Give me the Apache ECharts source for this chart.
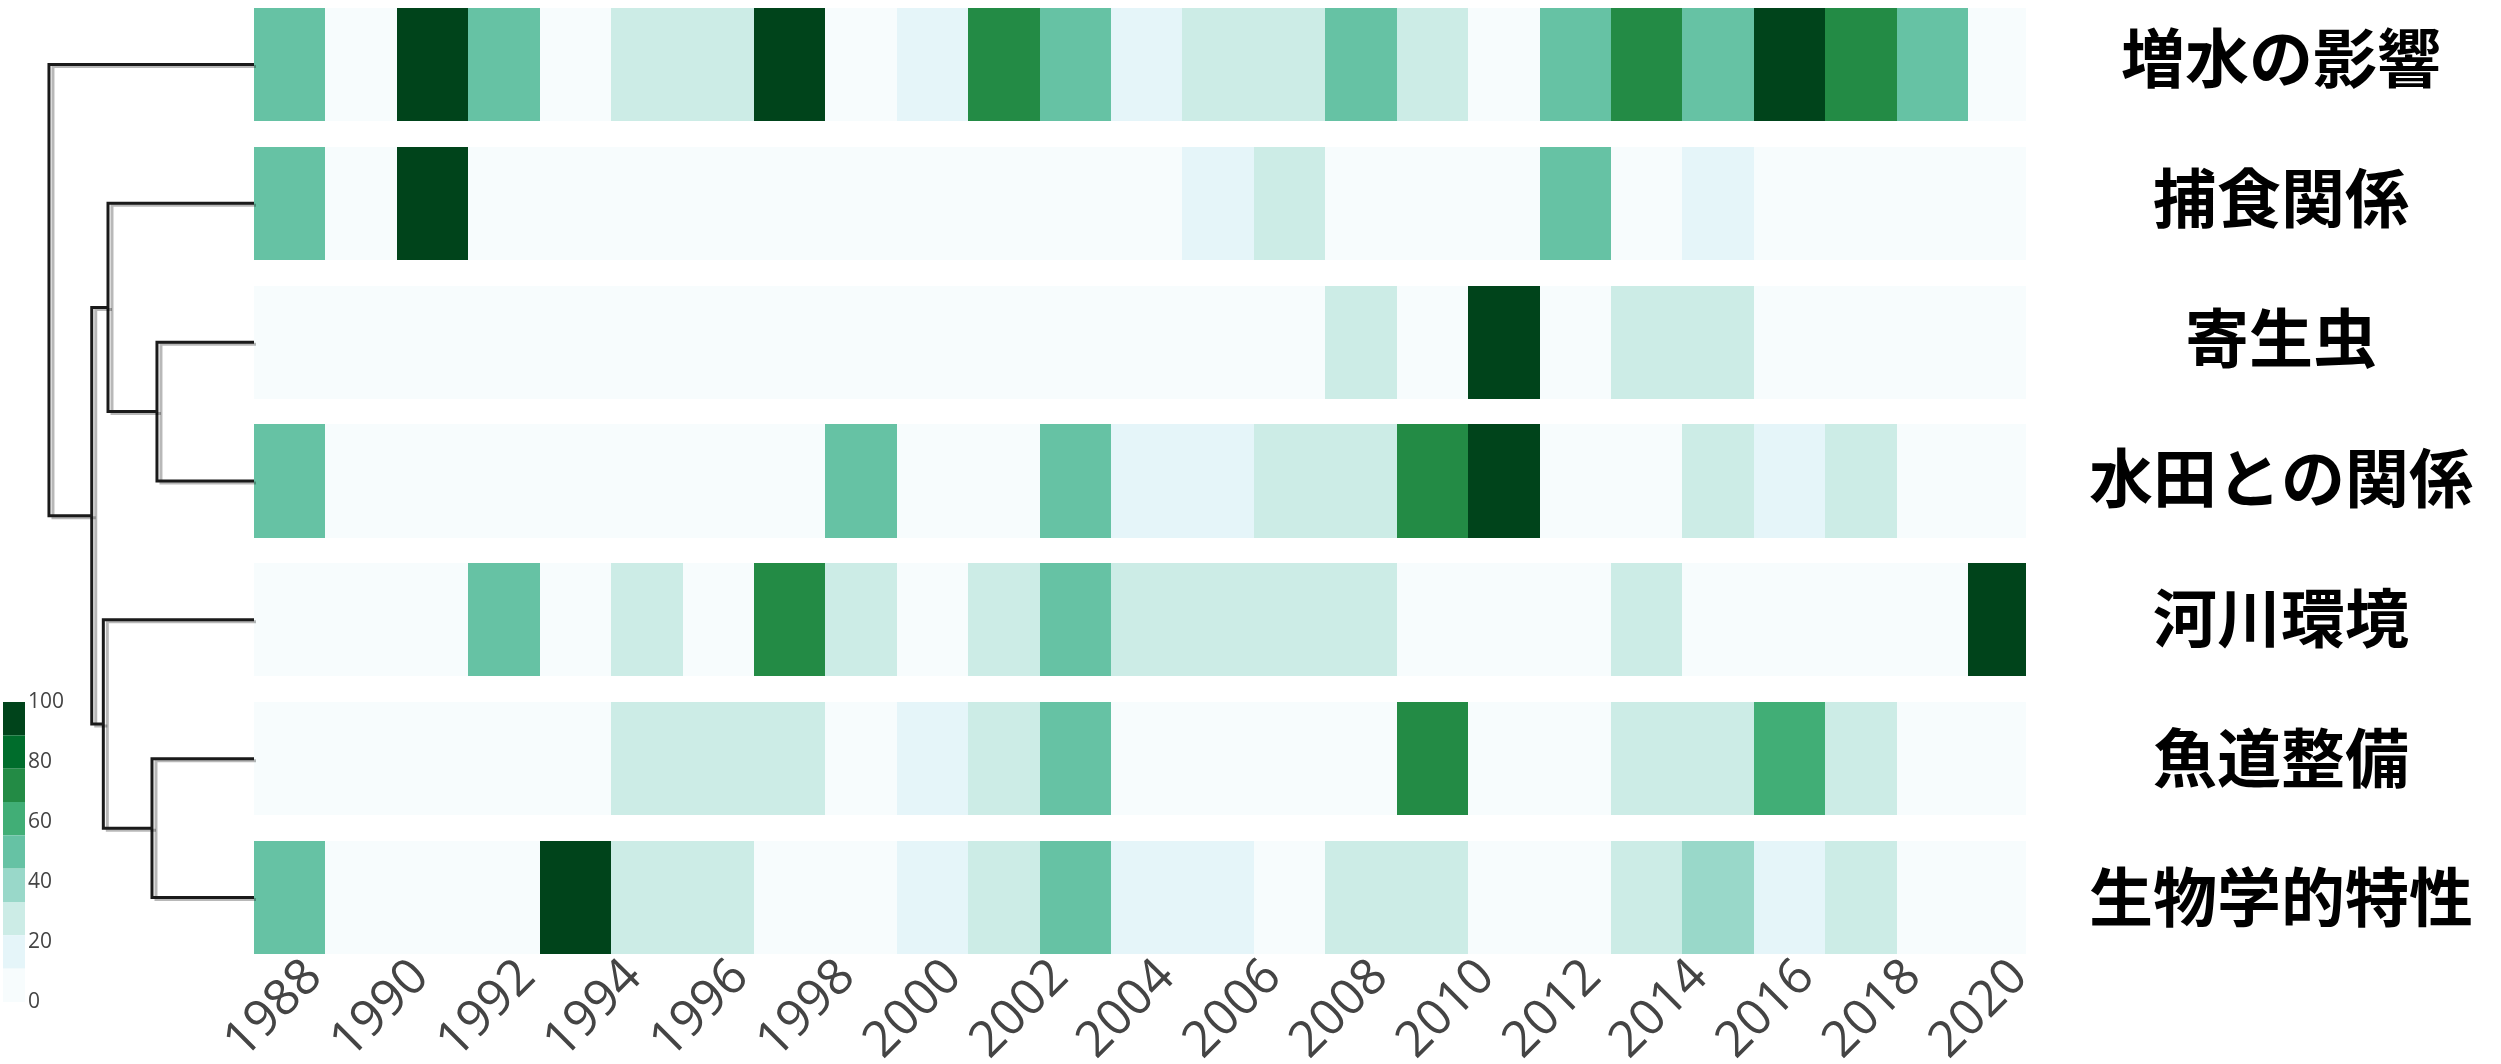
<!DOCTYPE html>
<html><head><meta charset="utf-8">
<script src="https://cdn.jsdelivr.net/npm/echarts@6/dist/echarts.min.js"></script>
<style>html,body{margin:0;padding:0;background:#fff;}#c{width:2501px;height:1064px;}</style>
</head><body><div id="c"></div>
<script>
// ---------- data ----------
const topics = ['増水の影響','捕食関係','寄生虫','水田との関係','河川環境','魚道整備','生物学的特性'];
// one value per heatmap column (25 columns, left to right)
const zousui   = [50,0,100,50,0,25,25,100,0,20,75,50,20,25,25,50,25,0,50,75,50,100,75,50,0];
const hoshoku  = [50,0,100,0,0,0,0,0,0,0,0,0,0,20,25,0,0,0,50,0,20,0,0,0,0];
const kiseichu = [0,0,0,0,0,0,0,0,0,0,0,0,0,0,0,25,0,100,0,25,25,0,0,0,0];
const suiden   = [50,0,0,0,0,0,0,0,50,0,0,50,20,20,25,25,75,100,0,0,25,20,25,0,0];
const kasen    = [0,0,0,50,0,25,0,75,25,0,25,50,25,25,25,25,0,0,0,25,0,0,0,0,100];
const gyodo    = [0,0,0,0,0,25,25,25,0,20,25,50,0,0,0,0,75,0,0,25,25,60,25,0,0];
const seibutsu = [50,0,0,0,100,25,25,0,0,20,25,50,20,20,0,25,25,0,0,25,40,20,25,0,0];
const rows = [zousui, hoshoku, kiseichu, suiden, kasen, gyodo, seibutsu];

const yearTicks = [1988,1990,1992,1994,1996,1998,2000,2002,2004,2006,2008,2010,2012,2014,2016,2018,2020];
const binEdges  = [0, 11.11, 22.22, 33.33, 44.44, 55.56, 66.67, 77.78, 88.89, 100];
const binColors = ['#f7fcfd','#e5f5f9','#ccece6','#99d8c9','#66c2a4','#41ae76','#238b45','#006d2c','#00441b'];

// dendrogram links: leaf positions (row index) and merge distances, scipy icoord/dcoord style
const linkLeafPos = [[2,2,3,3],[1,1,2.5,2.5],[5,5,6,6],[4,4,5.5,5.5],[1.75,1.75,4.75,4.75],[0,0,3.25,3.25]];
const linkDist    = [[0,0.955,0.955,0],[0,1.437,1.437,0.955],[0,1.004,1.004,0],[0,1.483,1.483,1.004],[1.437,1.597,1.597,1.483],[0,2.018,2.018,1.597]];

// ---------- build ----------
const cells = [];
rows.forEach((vals, r) => vals.forEach((v, c) => cells.push([c, r, v])));
const pieces = binColors.map((col, i) => ({ gte: binEdges[i], lt: i === binColors.length - 1 ? 100.001 : binEdges[i + 1], color: col }));

const chart = echarts.init(document.getElementById('c'), null, { renderer: 'canvas' });
const hidden = { show: false };
const fixed = { outerBoundsMode: 'none', containLabel: false };
chart.setOption({
  backgroundColor: '#fff',
  animation: false,
  grid: [
    Object.assign({ left: 254, top: -5, width: 1772, height: 972 }, fixed),   // heatmap
    Object.assign({ left: 0, top: -5, width: 254, height: 972 }, fixed),      // dendrogram
    Object.assign({ left: 25, top: 702, width: 1, height: 300 }, fixed),      // colorbar scale
    Object.assign({ left: 254, top: -12, width: 1772, height: 979 }, fixed)   // row names
  ],
  xAxis: [
    { type: 'value', gridIndex: 0, min: 0, max: 24.81, axisLine: hidden, axisTick: hidden, axisLabel: hidden, splitLine: hidden },
    { type: 'value', gridIndex: 0, min: 1986.87, max: 2020.12, position: 'bottom',
      axisLine: hidden, axisTick: hidden, splitLine: hidden,
      axisLabel: { customValues: yearTicks, formatter: v => String(v), rotate: 45, margin: 2, fontSize: 50, color: '#444', fontFamily: 'Open Sans' } },
    { type: 'value', gridIndex: 1, min: 0, max: 2.5, inverse: true, axisLine: hidden, axisTick: hidden, axisLabel: hidden, splitLine: hidden },
    { type: 'value', gridIndex: 2, min: 0, max: 1, axisLine: hidden, axisTick: hidden, axisLabel: hidden, splitLine: hidden },
    { type: 'value', gridIndex: 3, min: 0, max: 1, axisLine: hidden, axisTick: hidden, axisLabel: hidden, splitLine: hidden }
  ],
  yAxis: [
    { type: 'category', gridIndex: 0, data: topics, inverse: true,
      axisLine: hidden, axisTick: hidden, splitLine: hidden, axisLabel: hidden },
    { type: 'value', gridIndex: 1, min: -0.5, max: 6.5, inverse: true, axisLine: hidden, axisTick: hidden, axisLabel: hidden, splitLine: hidden },
    { type: 'value', gridIndex: 2, min: 0, max: 100, interval: 20, position: 'right',
      axisLine: hidden, axisTick: hidden, splitLine: hidden,
      axisLabel: { margin: 2, fontSize: 21, color: '#444', fontFamily: 'Open Sans', align: 'left' } },
    { type: 'category', gridIndex: 3, data: topics, inverse: true, position: 'right',
      axisLine: hidden, axisTick: hidden, splitLine: hidden,
      axisLabel: { align: 'center', margin: 255, fontSize: 64, fontWeight: 'bold', color: '#000', fontFamily: 'Noto Sans CJK JP' } }
  ],
  visualMap: {
    type: 'piecewise', seriesIndex: 0, dimension: 2, pieces: pieces,
    orient: 'vertical', left: 3, top: 702, itemWidth: 22, itemHeight: 33.33, itemGap: 0,
    itemSymbol: 'rect', showLabel: false, padding: 0, selectedMode: false
  },
  series: [
    { type: 'custom', xAxisIndex: 0, yAxisIndex: 0, clip: true, data: cells, encode: { x: 0, y: 1 },
      renderItem: function (params, api) {
        const c = api.value(0), r = api.value(1);
        const p0 = api.coord([c, r]);
        const p1 = api.coord([c + 1, r]);
        const band = api.size([0, 1])[1];
        const h = band * 0.814;
        const x0 = Math.round(p0[0]), x1 = Math.round(p1[0]);
        const y0 = Math.round(p0[1] - h / 2), y1 = Math.round(p0[1] + h / 2);
        const shape = echarts.graphic.clipRectByRect({ x: x0, y: y0, width: x1 - x0, height: y1 - y0 }, params.coordSys);
        return shape && { type: 'rect', shape: shape, style: { fill: api.visual('color') } };
      } },
    { type: 'lines', coordinateSystem: 'cartesian2d', xAxisIndex: 2, yAxisIndex: 1, polyline: true, silent: true,
      lineStyle: { color: '#1a1a1a', width: 3, opacity: 1, shadowColor: 'rgba(0,0,0,0.28)', shadowOffsetX: 4, shadowOffsetY: 2, shadowBlur: 0 },
      data: linkLeafPos.map((ys, k) => ({ coords: ys.map((y, j) => [linkDist[k][j], y]) })) }
  ]
});
</script></body></html>
